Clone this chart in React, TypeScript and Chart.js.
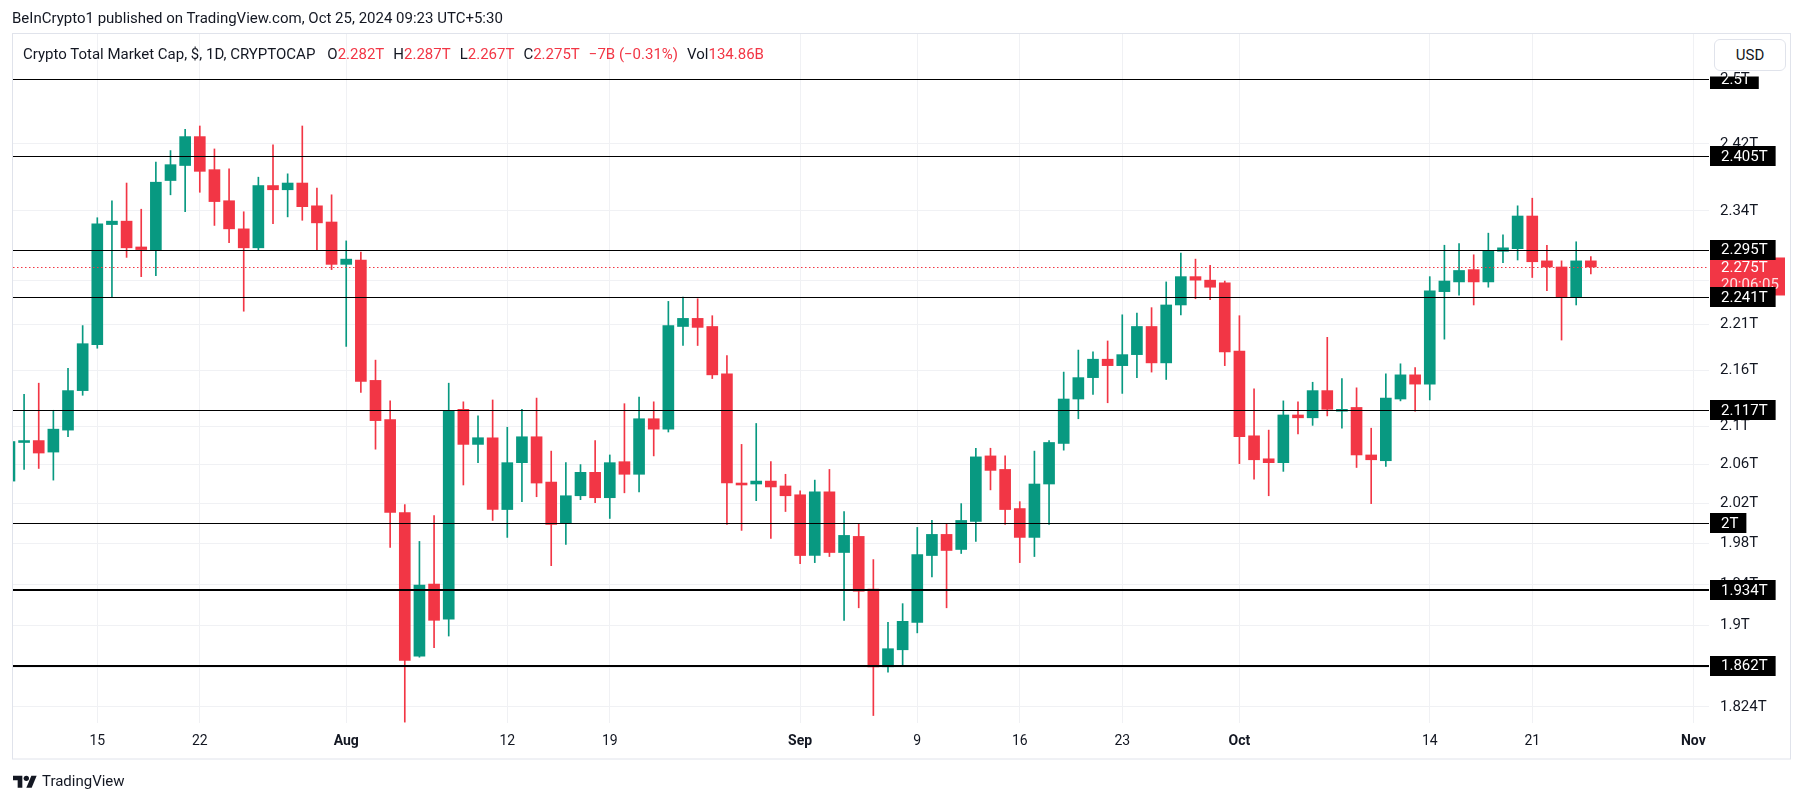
import React, { useEffect, useRef } from 'react';
import { Chart, registerables } from 'chart.js';

Chart.register(...registerables);

// ---------- data ----------
const FIRST_DATE = '2024-07-09';
const AXIS_ORIGIN = '2024-07-15';

const opens = [
  2.043, 2.083, 2.085, 2.073, 2.096, 2.138, 2.188, 2.324, 2.328, 2.298, 2.294, 2.376, 2.394, 2.429, 2.389, 2.352, 2.319, 2.297, 2.370, 2.365, 2.373, 2.346, 2.327,
  2.278, 2.283, 2.149, 2.107, 2.011, 1.871, 1.940, 1.906, 2.118, 2.081, 2.088, 2.014, 2.062, 2.089, 2.042, 2.000, 2.028, 2.052, 2.026, 2.063, 2.050, 2.108, 2.097, 2.208, 2.217, 2.208, 2.156, 2.041, 2.040, 2.043, 2.038,
  2.029, 1.968, 2.032, 1.971, 1.987, 1.935, 1.861, 1.877, 1.903, 1.968, 1.989, 1.974, 2.002, 2.069, 2.055, 2.015, 1.986, 2.040, 2.082, 2.129, 2.152, 2.172, 2.165, 2.177, 2.208, 2.168, 2.232, 2.264, 2.260, 2.257,
  2.181, 2.090, 2.066, 2.062, 2.112, 2.109, 2.138, 2.116, 2.120, 2.070, 2.064, 2.129, 2.155, 2.145, 2.247, 2.258, 2.272, 2.258, 2.293, 2.296, 2.334, 2.282, 2.275, 2.241, 2.282,
];
const highs = [
  2.088, 2.134, 2.146, 2.117, 2.162, 2.209, 2.332, 2.352, 2.373, 2.342, 2.398, 2.412, 2.438, 2.442, 2.414, 2.390, 2.339, 2.380, 2.419, 2.384, 2.442, 2.367, 2.359,
  2.305, 2.292, 2.171, 2.127, 2.019, 1.982, 2.008, 2.146, 2.126, 2.111, 2.128, 2.099, 2.118, 2.130, 2.074, 2.062, 2.060, 2.085, 2.070, 2.124, 2.131, 2.126, 2.236, 2.241, 2.239, 2.220, 2.176, 2.081, 2.103, 2.063, 2.050,
  2.033, 2.044, 2.055, 2.012, 2.000, 1.964, 1.903, 1.921, 1.996, 2.003, 2.000, 2.020, 2.077, 2.077, 2.069, 2.022, 2.074, 2.085, 2.158, 2.182, 2.180, 2.192, 2.221, 2.223, 2.229, 2.258, 2.291, 2.284, 2.277, 2.259,
  2.220, 2.140, 2.096, 2.127, 2.126, 2.147, 2.196, 2.151, 2.141, 2.098, 2.156, 2.167, 2.163, 2.264, 2.300, 2.302, 2.289, 2.314, 2.312, 2.346, 2.355, 2.300, 2.282, 2.304, 2.287,
];
const lows = [
  2.038, 2.055, 2.056, 2.044, 2.089, 2.133, 2.184, 2.241, 2.286, 2.264, 2.265, 2.359, 2.339, 2.362, 2.323, 2.303, 2.225, 2.294, 2.325, 2.333, 2.329, 2.294, 2.272,
  2.186, 2.136, 2.076, 1.976, 1.810, 1.870, 1.879, 1.890, 2.039, 2.062, 2.003, 1.986, 2.022, 2.027, 1.958, 1.979, 2.024, 2.021, 2.005, 2.031, 2.032, 2.069, 2.094, 2.187, 2.187, 2.151, 1.999, 1.993, 2.023, 1.985, 2.012,
  1.960, 1.961, 1.967, 1.905, 1.917, 1.816, 1.856, 1.862, 1.893, 1.947, 1.917, 1.970, 1.982, 2.034, 1.999, 1.961, 1.967, 1.999, 2.075, 2.108, 2.134, 2.125, 2.135, 2.152, 2.158, 2.150, 2.221, 2.239, 2.238, 2.165,
  2.061, 2.045, 2.028, 2.053, 2.092, 2.101, 2.111, 2.098, 2.057, 2.020, 2.058, 2.127, 2.116, 2.128, 2.194, 2.243, 2.232, 2.252, 2.280, 2.283, 2.263, 2.248, 2.193, 2.232, 2.267,
];
const closes = [
  2.084, 2.085, 2.072, 2.097, 2.138, 2.189, 2.325, 2.328, 2.297, 2.295, 2.374, 2.395, 2.429, 2.387, 2.351, 2.319, 2.297, 2.370, 2.365, 2.373, 2.345, 2.326, 2.278,
  2.284, 2.148, 2.106, 2.011, 1.867, 1.939, 1.905, 2.117, 2.081, 2.088, 2.014, 2.062, 2.089, 2.041, 1.999, 2.028, 2.052, 2.026, 2.062, 2.050, 2.108, 2.097, 2.209, 2.217, 2.207, 2.155, 2.041, 2.039, 2.043, 2.037, 2.028,
  1.968, 2.032, 1.971, 1.988, 1.933, 1.861, 1.878, 1.904, 1.969, 1.989, 1.973, 2.003, 2.068, 2.054, 2.014, 1.986, 2.040, 2.083, 2.129, 2.152, 2.172, 2.165, 2.177, 2.208, 2.168, 2.232, 2.264, 2.260, 2.252, 2.180,
  2.089, 2.065, 2.062, 2.112, 2.109, 2.138, 2.118, 2.118, 2.070, 2.065, 2.130, 2.155, 2.145, 2.248, 2.259, 2.271, 2.258, 2.293, 2.297, 2.334, 2.281, 2.275, 2.241, 2.282, 2.275,
];

const xTickDates = ['2024-07-15', '2024-07-22', '2024-08-01', '2024-08-12', '2024-08-19', '2024-09-01', '2024-09-09', '2024-09-16', '2024-09-23', '2024-10-01', '2024-10-14', '2024-10-21', '2024-11-01'];
const xTickLabels = ['15', '22', 'Aug', '12', '19', 'Sep', '9', '16', '23', 'Oct', '14', '21', 'Nov'];
const monthLabels = ['Aug', 'Sep', 'Oct', 'Nov'];

const yTickValues = [1.824, 1.86, 1.9, 1.94, 1.98, 2.02, 2.06, 2.1, 2.16, 2.21, 2.26, 2.34, 2.42, 2.5];

const levelValues = [2.5, 2.405, 2.295, 2.241, 2.117, 2, 1.934, 1.862];
const levelLabels = ['2.5T', '2.405T', '2.295T', '2.241T', '2.117T', '2T', '1.934T', '1.862T'];
const thickLevels = [1.934, 1.862];

const LAST_PRICE = 2.275;
const LAST_LABEL = '2.275T';
const COUNTDOWN = '20:06:05';

// ---------- style ----------
const GREEN = '#089981';
const RED = '#f23645';
const TEXT = '#131722';
const GRID = '#f0f1f4';
const FRAME = '#e0e3eb';
const FONT = 'Roboto, "Noto Sans", sans-serif';

const DAY = 86400000;
const toDay = (s: string) => (Date.parse(s + 'T00:00:00Z') - Date.parse(AXIS_ORIGIN + 'T00:00:00Z')) / DAY;
const firstDay = toDay(FIRST_DATE);
const candleDays = opens.map((_, i) => firstDay + i);
const xTickDays = xTickDates.map(toDay);

const overlayPlugin = {
  id: 'tvOverlay',
  beforeDraw(chart: any) {
    const ctx = chart.ctx;
    ctx.save();
    ctx.fillStyle = '#ffffff';
    ctx.fillRect(0, 0, chart.width, chart.height);
    ctx.strokeStyle = FRAME;
    ctx.lineWidth = 1;
    ctx.strokeRect(12.5, 33.5, 1778, 725.5);
    ctx.restore();
  },
  afterDatasetsDraw(chart: any) {
    const { ctx, chartArea: ca } = chart;
    const y = chart.scales.y;
    ctx.save();
    ctx.beginPath();
    ctx.rect(ca.left, ca.top, ca.right - ca.left, ca.bottom - ca.top);
    ctx.clip();
    const py = Math.round(y.getPixelForValue(LAST_PRICE)) + 0.5;
    ctx.strokeStyle = RED;
    ctx.lineWidth = 1;
    ctx.setLineDash([1.5, 2.5]);
    ctx.beginPath();
    ctx.moveTo(ca.left, py);
    ctx.lineTo(ca.right, py);
    ctx.stroke();
    ctx.setLineDash([]);
    levelValues.forEach((v) => {
      const thick = thickLevels.includes(v);
      const ly = thick ? Math.round(y.getPixelForValue(v)) : Math.round(y.getPixelForValue(v)) + 0.5;
      ctx.strokeStyle = '#000';
      ctx.lineWidth = thick ? 2 : 1;
      ctx.beginPath();
      ctx.moveTo(ca.left, ly);
      ctx.lineTo(ca.right, ly);
      ctx.stroke();
    });
    ctx.restore();
  },
  afterDraw(chart: any) {
    const { ctx, chartArea: ca } = chart;
    const y = chart.scales.y;
    const x0 = ca.right + 1;
    ctx.save();
    ctx.beginPath();
    ctx.rect(x0, 76.5, 90, ca.bottom - 76.5);
    ctx.clip();
    ctx.font = `15px ${FONT}`;
    ctx.textBaseline = 'middle';
    ctx.textAlign = 'left';
    const py = y.getPixelForValue(LAST_PRICE);
    ctx.fillStyle = RED;
    ctx.fillRect(x0, py - 9.5, 75, 38);
    ctx.fillStyle = '#ffffff';
    ctx.fillText(LAST_LABEL, x0 + 11, py + 1);
    ctx.fillStyle = 'rgba(255,255,255,0.85)';
    ctx.fillText(COUNTDOWN, x0 + 11, py + 18.5);
    levelValues.forEach((v, i) => {
      const ly = y.getPixelForValue(v);
      const tw = ctx.measureText(levelLabels[i]).width;
      ctx.fillStyle = '#000';
      ctx.fillRect(x0, Math.round(ly) - 10, tw + 19, 20);
      ctx.fillStyle = '#ffffff';
      ctx.fillText(levelLabels[i], x0 + 11, ly + 1);
    });
    ctx.restore();
  },
};

function CandleChart() {
  const ref = useRef<HTMLCanvasElement | null>(null);
  useEffect(() => {
    if (!ref.current) return;
    const colors = opens.map((o, i) => (closes[i] >= o ? GREEN : RED));
    const bodies = candleDays.map((d, i) => ({ x: d, y: [opens[i], closes[i]] }));
    const wicks = candleDays.map((d, i) => ({ x: d, y: [lows[i], highs[i]] }));
    const chart = new Chart(ref.current, {
      type: 'bar',
      data: {
        datasets: [
          { label: 'body', data: bodies as any, backgroundColor: colors, barThickness: 11, minBarLength: 1, grouped: false, borderWidth: 0 } as any,
          { label: 'wick', data: wicks as any, backgroundColor: colors, barThickness: 1, grouped: false, borderWidth: 0 } as any,
        ],
      },
      options: {
        animation: false,
        responsive: false,
        maintainAspectRatio: false,
        devicePixelRatio: 1,
        layout: { padding: { left: 13, top: 34, right: 14, bottom: 44 } },
        plugins: { legend: { display: false }, tooltip: { enabled: false } },
        scales: {
          x: {
            type: 'linear',
            min: -5.757,
            max: 110.07,
            offset: false,
            grid: { color: GRID, drawTicks: false, offset: false },
            border: { display: false },
            afterBuildTicks: (s: any) => {
              s.ticks = xTickDays.map((v) => ({ value: v }));
            },
            afterFit: (s: any) => {
              s.height = 36;
            },
            ticks: {
              autoSkip: false,
              maxRotation: 0,
              padding: 10,
              color: TEXT,
              callback: (v: any) => {
                const idx = xTickDays.indexOf(v);
                return idx >= 0 ? xTickLabels[idx] : '';
              },
              font: (c: any) => {
                const idx = xTickDays.indexOf(c.tick ? c.tick.value : NaN);
                const lbl = idx >= 0 ? xTickLabels[idx] : '';
                return { family: FONT, size: 14, weight: monthLabels.includes(lbl) ? 'bold' : 'normal' };
              },
            },
          } as any,
          y: {
            type: 'logarithmic',
            position: 'right',
            min: 1.8092,
            max: 2.5575,
            grid: { color: GRID, drawTicks: false },
            border: { display: false },
            afterBuildTicks: (s: any) => {
              s.ticks = yTickValues.map((v) => ({ value: v }));
            },
            afterFit: (s: any) => {
              s.width = 81;
            },
            ticks: {
              padding: 11,
              color: TEXT,
              font: { family: FONT, size: 15 },
              callback: (v: any) => `${v}T`,
            },
          } as any,
        },
      },
      plugins: [overlayPlugin],
    });
    return () => chart.destroy();
  }, []);
  return <canvas ref={ref} width={1804} height={803} style={{ display: 'block', position: 'absolute', left: 0, top: 0 }} />;
}

export default function App() {
  const red = { color: RED };
  const gap = { marginLeft: 9 };
  return (
    <div style={{ position: 'fixed', left: 0, top: 0, width: 1804, height: 803, background: '#fff', fontFamily: FONT, color: TEXT, overflow: 'hidden' }}>
      <CandleChart />
      <div style={{ position: 'absolute', left: 12, top: 8, fontSize: 15, lineHeight: '20px', whiteSpace: 'nowrap' }}>
        BeInCrypto1 published on TradingView.com, Oct 25, 2024 09:23 UTC+5:30
      </div>
      <div style={{ position: 'absolute', left: 23, top: 44, fontSize: 15, lineHeight: '20px', whiteSpace: 'nowrap' }}>
        <span>Crypto Total Market Cap, $, 1D, CRYPTOCAP</span>
        <span style={{ marginLeft: 12 }}>O</span><span style={red}>2.282T</span>
        <span style={gap}>H</span><span style={red}>2.287T</span>
        <span style={gap}>L</span><span style={red}>2.267T</span>
        <span style={gap}>C</span><span style={red}>2.275T</span>
        <span style={{ ...red, ...gap }}>−7B (−0.31%)</span>
        <span style={gap}>Vol</span><span style={red}>134.86B</span>
      </div>
      <div style={{ position: 'absolute', left: 1714, top: 39, width: 70, height: 30, border: `1px solid ${FRAME}`, borderRadius: 6, background: '#fff', fontSize: 15, lineHeight: '30px', textAlign: 'center' }}>
        USD
      </div>
      <div style={{ position: 'absolute', left: 13, top: 771, height: 20, display: 'flex', alignItems: 'center', fontSize: 15, whiteSpace: 'nowrap' }}>
        <svg width="24" height="16" viewBox="0 0 36 24" style={{ marginRight: 5 }}>
          <path d="M14 22H7V11H0V4h14v18z" fill={TEXT} />
          <circle cx="20" cy="8" r="4" fill={TEXT} />
          <path d="M28 22h-8l7.5-18h8L28 22z" fill={TEXT} />
        </svg>
        <span>TradingView</span>
      </div>
    </div>
  );
}
